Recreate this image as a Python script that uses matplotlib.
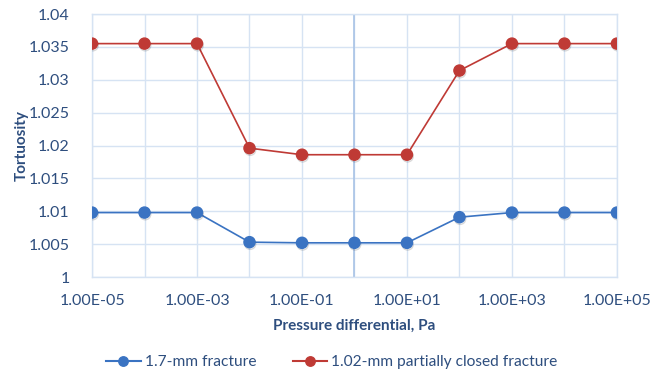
import numpy as np
import matplotlib
matplotlib.use("Agg")
import matplotlib.pyplot as plt
import matplotlib.patheffects as pe
from matplotlib.ticker import FixedLocator, NullFormatter

plt.rcParams['font.family'] = ['Lato', 'DejaVu Sans']

# === Data ===
pressure = [1e-5, 1e-4, 1e-3, 1e-2, 1e-1, 1e0, 1e1, 1e2, 1e3, 1e4, 1e5]
tort_17mm = [1.0098, 1.0098, 1.0098, 1.0053, 1.0052, 1.0052, 1.0052, 1.0091, 1.0098, 1.0098, 1.0098]
tort_102mm = [1.0355, 1.0355, 1.0355, 1.0196, 1.0186, 1.0186, 1.0186, 1.0314, 1.0355, 1.0355, 1.0355]
label_17 = "1.7-mm fracture"
label_102 = "1.02-mm partially closed fracture"
xtick_vals = [1e-5, 1e-3, 1e-1, 1e1, 1e3, 1e5]
xtick_labels = ["1.00E-05", "1.00E-03", "1.00E-01", "1.00E+01", "1.00E+03", "1.00E+05"]
ytick_vals = [1.0, 1.005, 1.01, 1.015, 1.02, 1.025, 1.03, 1.035, 1.04]
ytick_labels = ["1", "1.005", "1.01", "1.015", "1.02", "1.025", "1.03", "1.035", "1.04"]

text_col = "#2E4E7E"
grid_col = "#D6E3F3"
blue = "#3A73C2"
red = "#BF3A35"

fig = plt.figure(figsize=(6.64, 3.79), dpi=100)
ax = fig.add_axes([0.1386, 0.2691, 0.7905, 0.6939])

shadow = [pe.SimpleLineShadow(offset=(0.5, -1.2), alpha=0.15, shadow_color="black"), pe.Normal()]
for vals, col, lab in [(tort_17mm, blue, label_17), (tort_102mm, red, label_102)]:
    ax.plot(pressure, vals, color=col, lw=1.2, zorder=3)
    ax.plot(pressure, vals, color=col, lw=0, marker="o", ms=8,
            path_effects=shadow, zorder=4)
    # legend proxy
    ax.plot([], [], color=col, lw=1.5, marker="o", ms=8, label=lab)

ax.set_xscale("log")
ax.set_xlim(1e-5, 1e5)
ax.set_ylim(1.0, 1.04)

ax.xaxis.set_major_locator(FixedLocator(xtick_vals))
ax.set_xticklabels(xtick_labels)
ax.xaxis.set_minor_locator(FixedLocator(pressure))
ax.xaxis.set_minor_formatter(NullFormatter())
ax.set_yticks(ytick_vals)
ax.set_yticklabels(ytick_labels)

ax.grid(True, which="both", axis="x", color=grid_col, lw=1)
ax.grid(True, which="major", axis="y", color=grid_col, lw=1)
ax.axvline(1.0, color="#A9C3E6", lw=1.2, zorder=2)

for s in ax.spines.values():
    s.set_color(grid_col)
    s.set_linewidth(1)

ax.tick_params(which="both", length=0, colors=text_col, labelsize=11.5)
ax.tick_params(axis="x", pad=12)
ax.tick_params(axis="y", pad=16)

ax.set_xlabel("Pressure differential, Pa", color=text_col, fontsize=11,
              fontweight="bold")
ax.xaxis.set_label_coords(0.5, -0.158)
ax.set_ylabel("Tortuosity", color=text_col, fontsize=11, fontweight="bold")
ax.yaxis.set_label_coords(-0.12, 0.5)

leg = fig.legend(loc="center", bbox_to_anchor=(0.5, 0.045), ncol=2, frameon=False,
                 fontsize=11.2, handlelength=2.2, handletextpad=0.3,
                 columnspacing=2.3, markerscale=0.85)
for t in leg.get_texts():
    t.set_color(text_col)

fig.savefig("out.png", dpi=100)
